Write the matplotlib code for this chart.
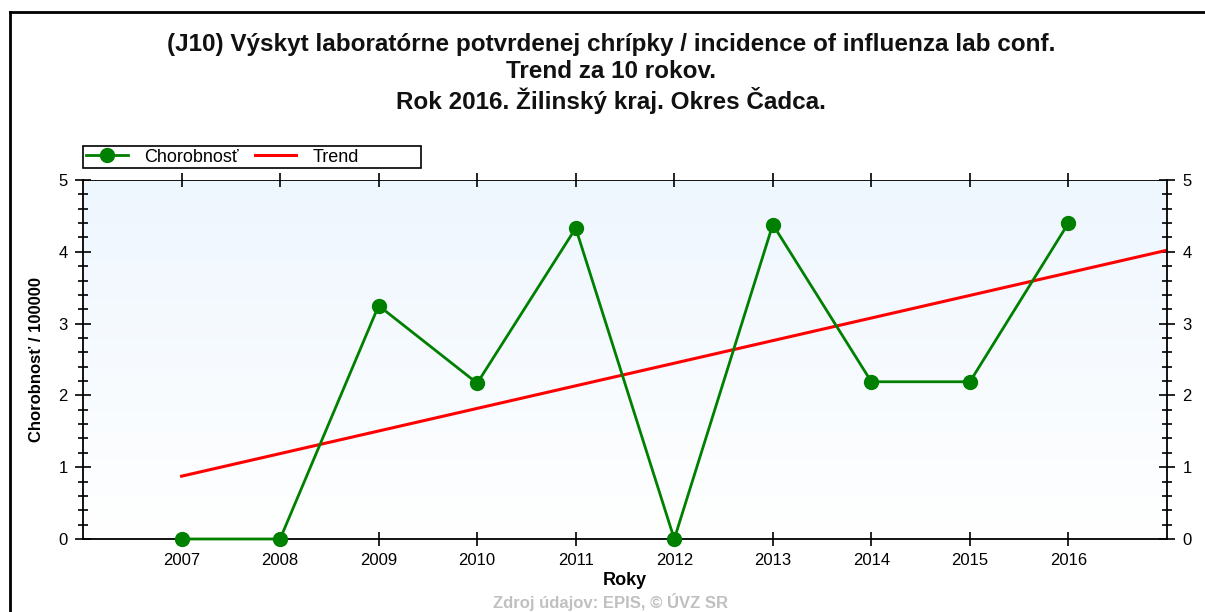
import matplotlib
matplotlib.use("Agg")
import matplotlib.pyplot as plt
from matplotlib.lines import Line2D
from matplotlib.patches import Rectangle
from matplotlib.ticker import MultipleLocator
import numpy as np

plt.rcParams['font.family'] = ['Liberation Sans', 'DejaVu Sans']

# data
years = [2007, 2008, 2009, 2010, 2011, 2012, 2013, 2014, 2015, 2016]
incidence = [0.0, 0.0, 3.25, 2.17, 4.33, 0.0, 4.38, 2.19, 2.19, 4.40]

title_lines = ["(J10) Výskyt laboratórne potvrdenej chrípky / incidence of influenza lab conf.",
               "Trend za 10 rokov.",
               "Rok 2016. Žilinský kraj. Okres Čadca."]

W, H = 1205, 612
fig = plt.figure(figsize=(W / 100, H / 100), dpi=100)
ax = fig.add_axes([83 / W, 1 - 539 / H, (1167 - 83) / W, (539 - 180) / H])

# gradient background
grad = np.linspace(0, 1, 256).reshape(-1, 1)
cmap = matplotlib.colors.LinearSegmentedColormap.from_list("bg", ["#ffffff", "#eef6fe"])
ax.imshow(grad, aspect='auto', cmap=cmap, origin='lower',
          extent=[2006, 2017, 0, 5], zorder=0)

# trend line (linear fit, extended to right edge)
p = np.polyfit(years, incidence, 1)
tx = np.array([years[0], years[-1] + 1])
ax.plot(tx, np.polyval(p, tx), color='#ff0000', lw=2.2, zorder=2, label='Trend')

ax.plot(years, incidence, color='#008000', lw=2, marker='o', ms=10,
        zorder=3, label='Chorobnosť', clip_on=False)

ax.set_xlim(2006, 2017)
ax.set_ylim(0, 5)
ax.set_xticks(years)
ax.set_xticklabels([str(y) for y in years], fontsize=12)
ax.yaxis.set_major_locator(MultipleLocator(1))
ax.yaxis.set_minor_locator(MultipleLocator(0.2))
ax.tick_params(axis='x', direction='inout', length=10, width=1.2, top=True, pad=5)
ax.tick_params(axis='y', which='major', direction='inout', length=12, width=1.2,
               right=True, labelright=True, labelsize=12, pad=5)
ax.tick_params(axis='y', which='minor', direction='inout', length=7, width=1.2, right=True)
for s in ax.spines.values():
    s.set_linewidth(1.3)
ax.spines['top'].set_visible(False)
ax.axhline(5, color='black', lw=1.3, zorder=1)

ax.set_xlabel('Roky', fontsize=13, fontweight='bold', labelpad=3)
ax.set_ylabel('Chorobnosť / 100000', fontsize=12, fontweight='bold', labelpad=10)

# legend: no own frame, a fixed-width box drawn behind it
h, l = ax.get_legend_handles_labels()
leg = fig.legend(h[::-1], l[::-1], loc='center left',
                 bbox_to_anchor=(86 / W, 1 - 157 / H),
                 ncol=2, fontsize=13, frameon=False,
                 borderpad=0, handlelength=2.3, handletextpad=0.9,
                 columnspacing=0.9, borderaxespad=0)
fig.add_artist(Rectangle((83 / W, 1 - 168 / H), (421 - 83) / W, 22 / H,
                         transform=fig.transFigure, fill=False,
                         edgecolor='black', lw=1.2))

for y_px, line in zip([45, 72, 100], title_lines):
    fig.text(0.507, 1 - y_px / H, line, ha='center', va='center',
             fontsize=17.5, fontweight='bold', color='#111111')
fig.text(0.507, 1 - 602 / H, 'Zdroj údajov: EPIS, © ÚVZ SR', ha='center', va='center',
         fontsize=12, color='#c0c0c0', fontweight='bold')

# outer frame (cropped on the right and bottom)
fig.add_artist(Line2D([10 / W, 10 / W], [0, 1 - 12 / H], transform=fig.transFigure,
                      color='black', lw=2))
fig.add_artist(Line2D([10 / W, 1], [1 - 12 / H, 1 - 12 / H], transform=fig.transFigure,
                      color='black', lw=2))

fig.savefig('out.png', dpi=100)
